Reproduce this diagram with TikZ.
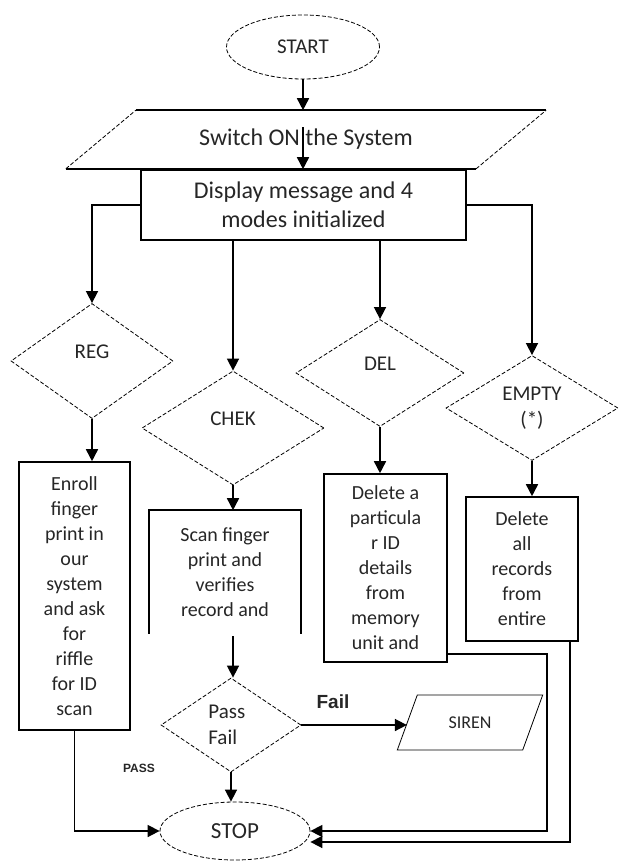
\documentclass[tikz,border=0pt]{standalone}
\usepackage{fontspec}
\setmainfont{Carlito}
\newfontfamily\labelfont{Liberation Sans}
\usetikzlibrary{arrows.meta,shapes.geometric,positioning}

\begin{document}
\begin{tikzpicture}[x=1pt,y=-1pt,->,>={Triangle[width=12pt,length=12pt]},line width=1.6pt,
    terminal/.style={ellipse, draw, line width=0.8pt, dash pattern=on 4pt off 2pt, inner sep=0pt},
    decision/.style={diamond, draw, line width=0.8pt, dash pattern=on 4pt off 2pt, inner sep=0pt,
                     align=center, font=\fontsize{21pt}{26pt}\selectfont},
    process/.style={rectangle, draw, line width=1.6pt, inner sep=0pt, align=center,
                    font=\fontsize{20pt}{25pt}\selectfont},
    raised/.style={text height=14pt, text depth=20pt}]
  \tikzstyle{every node}=[text=black!85]
  \useasboundingbox (0,0) rectangle (618,861);

  % top of the chart
  \node[terminal, minimum width=153pt, minimum height=64pt, font=\fontsize{21pt}{25pt}\selectfont] (start) at (303,47) {START};
  \node[trapezium, trapezium stretches=true, trapezium left angle=25.6, trapezium right angle=154.4,
        minimum width=478pt, minimum height=57pt, inner sep=0pt, font=\fontsize{24pt}{28pt}\selectfont]
        (switch) at (306,139.5) {Switch ON the System};
  \draw[-] (switch.top left corner) -- (switch.top right corner);
  \draw[-] (switch.bottom left corner) -- (switch.bottom right corner);
  \draw[-, line width=0.8pt, dash pattern=on 4pt off 2pt] (switch.bottom left corner) -- (switch.top left corner)
        (switch.bottom right corner) -- (switch.top right corner);
  \node[process, fill=white, minimum width=325pt, minimum height=70pt, font=\fontsize{24pt}{29pt}\selectfont]
        (disp) at (303.5,205) {Display message and 4\\modes initialized};

  % the four modes
  \node[decision, raised, minimum width=162pt, minimum height=115pt] (reg) at (92,361) {REG};
  \node[decision, raised, minimum width=182pt, minimum height=114pt] (chek) at (233,428) {CHEK};
  \node[decision, raised, minimum width=168pt, minimum height=107pt] (del) at (380,373) {DEL};
  \node[decision, minimum width=172pt, minimum height=105pt] (empty) at (532,408) {EMPTY\\(*)};

  \node[process, minimum width=111pt, minimum height=268pt] (enroll) at (74.5,596)
        {Enroll\\finger\\print in\\our\\system\\and ask\\for\\riffle\\for ID\\scan};
  \node[process, draw=none, minimum width=150pt, minimum height=122pt] (scan) at (225,572)
        {Scan finger\\print and\\verifies\\record and};
  \draw[-] (scan.south west) -- (scan.north west) -- (scan.north east) -- (scan.south east);
  \coordinate (scanout) at (233,636);
  \node[process, minimum width=123pt, minimum height=188pt] (delid) at (385.5,568)
        {Delete a\\particula\\r ID\\details\\from\\memory\\unit and};
  \node[process, minimum width=112pt, minimum height=144pt] (delall) at (522,569)
        {Delete\\all\\records\\from\\entire};

  % bottom of the chart
  \node[decision, align=left, minimum width=140pt, minimum height=94pt] (pass) at (231,725) {Pass\\Fail\hphantom{ss}};
  \node[trapezium, trapezium stretches=true, trapezium left angle=55.4, trapezium right angle=124.6,
        draw, line width=0.8pt, minimum width=146pt, minimum height=55pt, inner sep=0pt,
        font=\fontsize{18pt}{22pt}\selectfont] (siren) at (470,722.5) {SIREN};
  \node[terminal, minimum width=150pt, minimum height=58pt, font=\fontsize{23pt}{27pt}\selectfont] (stop) at (235,831) {STOP};
  \node[font=\labelfont\bfseries\fontsize{19pt}{22pt}\selectfont] (faillabel) at (333,702) {Fail};
  \node[font=\labelfont\bfseries\fontsize{12pt}{14pt}\selectfont] (passlabel) at (139,768) {PASS};
  \coordinate (rail) at (547,654);

  % connectors
  \draw (start.south) -- (start.south |- switch.north);
  \draw ([yshift=12pt]switch.center -| start) -- (disp.north -| start);
  \draw (disp.west) -| (reg.north);
  \draw (disp.south -| chek) -- (chek.north);
  \draw (disp.south -| del) -- (del.north);
  \draw (disp.east) -| (empty.north);
  \draw (reg.south) -- (reg.south |- enroll.north);
  \draw (chek.south) -- (chek.south |- scan.north);
  \draw (del.south) -- (del.south |- delid.north);
  \draw (empty.south) -- (empty.south |- delall.north);
  \draw (scanout) -- (scanout |- pass.north);
  \draw (pass.east) -- (pass.east -| siren.west);
  \draw (pass.south) -- (pass.south |- stop.north);
  \draw (enroll.south) |- (stop.west);
  \draw (delid.east |- rail) -- (rail) |- (stop.east);
  \draw ([xshift=-9pt]delall.south east) |- ([yshift=-11pt]stop.east);
\end{tikzpicture}
\end{document}
